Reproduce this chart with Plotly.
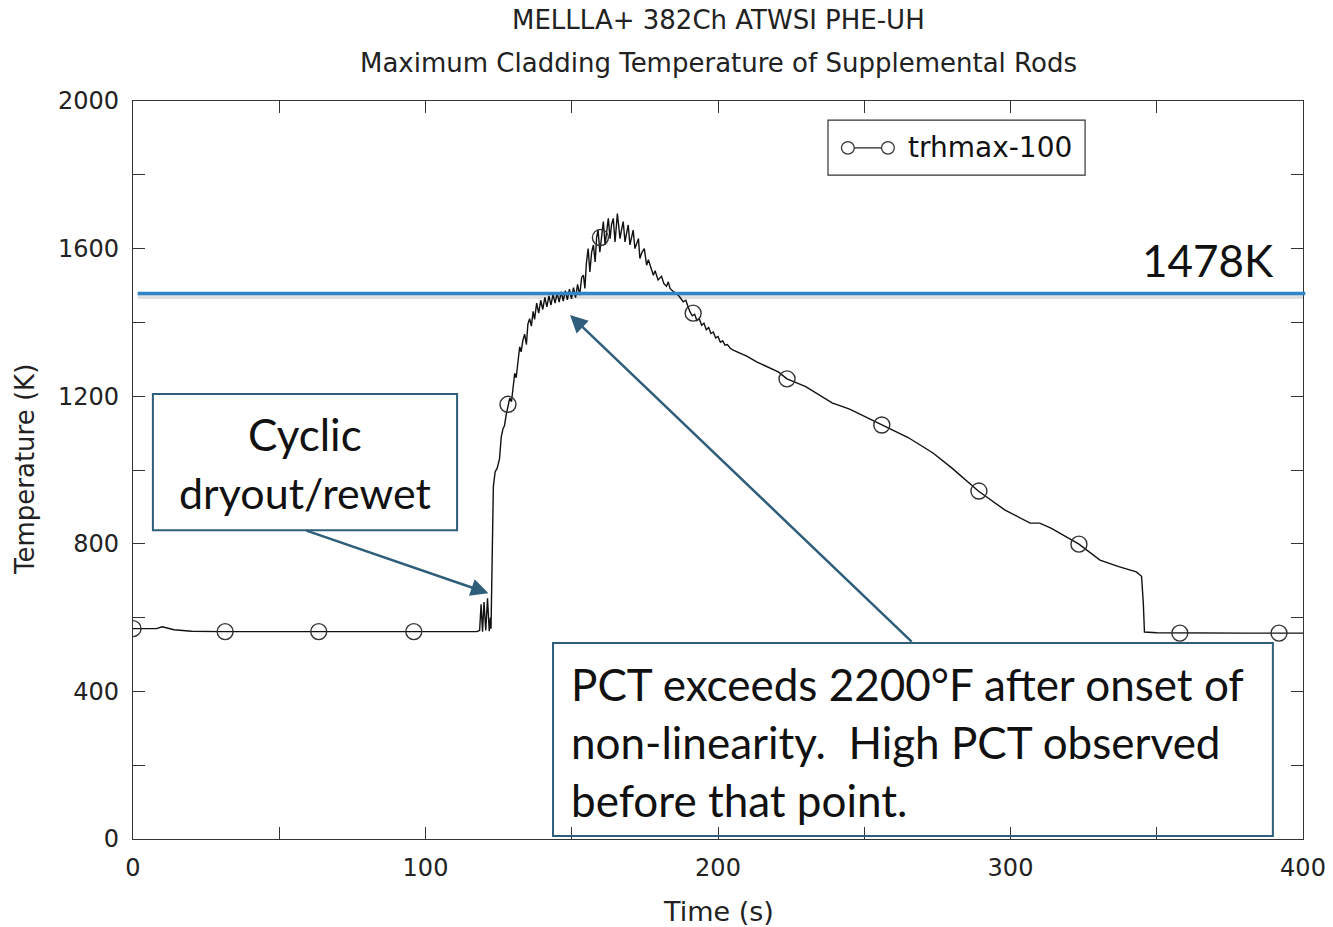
import plotly.graph_objects as go

# ---------------- data ----------------
t_steady = [0, 8, 10, 11, 14, 20, 30, 60, 90, 117.5]
T_steady = [570, 570, 575, 573, 567, 563, 562, 562, 562, 562]

t_dryout = [118.5, 119.0, 119.5, 120.0, 120.6, 121.2, 121.8, 122.2]
T_dryout = [565, 636, 562, 642, 565, 652, 563, 600]

t_rise = [122.4, 123.2, 123.8, 124.5, 125.3, 125.9, 126.5, 127.0, 127.6, 128.2,
          128.8, 129.4, 129.9, 130.5, 131.0, 131.6, 132.2, 132.7, 133.3, 133.9,
          134.5, 135.0, 135.6, 136.2, 136.8, 137.3]
T_rise = [570, 955, 995, 1005, 1030, 1090, 1112, 1120, 1150, 1170,
          1195, 1185, 1222, 1262, 1250, 1285, 1334, 1320, 1352, 1368,
          1340, 1395, 1410, 1390, 1430, 1408]

t_plateau = [138.0, 138.7, 139.4, 140.1, 140.8, 141.5, 142.2, 142.9, 143.6, 144.3,
             145.0, 145.7, 146.4, 147.1, 147.8, 148.5, 149.2, 149.9, 150.6, 151.3,
             152.0, 152.7, 153.4]
T_plateau = [1452, 1425, 1460, 1435, 1468, 1442, 1472, 1447, 1476, 1452,
             1480, 1455, 1483, 1458, 1486, 1461, 1490, 1464, 1494, 1467,
             1503, 1474, 1522]

t_peak = [154.0, 154.5, 155.0, 155.6, 156.2, 156.8, 157.4, 158.0, 158.5, 159.0,
          159.6, 160.2, 160.8, 161.4, 162.0, 162.5, 163.1, 163.6, 164.2, 164.8,
          165.6, 166.5, 167.0, 167.6, 168.2, 168.7, 169.3, 169.9, 170.5, 171.0,
          171.6, 172.2, 172.8, 173.3, 174.0, 174.8, 175.6, 176.2, 177.0, 177.9,
          178.5, 179.5, 180.7, 181.5, 182.4, 183.0, 183.6, 184.5, 185.8, 186.8,
          188.1, 189.0, 189.8]
T_peak = [1528, 1492, 1560, 1600, 1537, 1590, 1610, 1564, 1630, 1650,
          1590, 1640, 1673, 1610, 1660, 1682, 1627, 1665, 1682, 1618,
          1695, 1627, 1650, 1673, 1618, 1645, 1664, 1610, 1635, 1650,
          1600, 1615, 1627, 1573, 1590, 1600, 1555, 1570, 1551, 1528,
          1540, 1515, 1525, 1505, 1498, 1510, 1492, 1485, 1478, 1470,
          1456, 1460, 1442]

t_wavy = [190.4, 191.2, 192.0, 192.8, 193.6, 194.4, 195.2, 196.0, 196.8, 197.6,
          198.4, 199.2, 200.0, 200.8, 201.6, 202.4, 203.2, 204.2]
T_wavy = [1429, 1418, 1422, 1405, 1410, 1392, 1398, 1380, 1386, 1370,
          1374, 1358, 1362, 1346, 1350, 1338, 1340, 1330]

t_cool = [205.2, 210, 213.2, 220.6, 223.6, 230, 239, 245, 256, 265,
          273.5, 280, 289, 298, 306.7, 310, 314, 323.4, 330.6, 337,
          343, 344.8, 345.4, 345.8, 350, 360, 380, 400]
T_cool = [1325, 1308, 1293, 1266, 1247, 1226, 1182, 1165, 1122, 1088,
          1046, 1005, 943, 892, 856, 856, 842, 799, 756, 738,
          724, 712, 640, 561, 559, 558, 558, 558]

marker_t = [0, 31.5, 63.5, 96, 128.2, 159.8, 191.5, 223.6, 256, 289.2, 323.4, 357.9, 391.8]
marker_T = [570, 562, 562, 562, 1178, 1630, 1425, 1247, 1122, 943, 799, 558, 558]

limit_K = 1478
limit_label = "1478K"
series_name = "trhmax-100"

x_ticks = [0, 50, 100, 150, 200, 250, 300, 350, 400]
x_ticktext = ["0", "", "100", "", "200", "", "300", "", "400"]
y_ticks = [0, 200, 400, 600, 800, 1000, 1200, 1400, 1600, 1800, 2000]
y_ticktext = ["0", "", "400", "", "800", "", "1200", "", "1600", "", "2000"]

time_s = t_steady + t_dryout + t_rise + t_plateau + t_peak + t_wavy + t_cool
temp_K = T_steady + T_dryout + T_rise + T_plateau + T_peak + T_wavy + T_cool

# ---------------- figure ----------------
AX = "#333333"
CALL = "#2F5E7A"
SANS = "DejaVu Sans, Verdana, sans-serif"
TICKFONT = dict(family=SANS, size=24, color="#222")
ANNFONT = dict(family="Lato, 'Open Sans', sans-serif", size=44, color="#111")

fig = go.Figure()
fig.add_trace(go.Scatter(x=time_s, y=temp_K, mode="lines",
                         line=dict(color="#111", width=1.4),
                         showlegend=False, hoverinfo="skip"))
fig.add_trace(go.Scatter(x=marker_t, y=marker_T, mode="markers",
                         marker=dict(symbol="circle-open", size=16,
                                     color="#333", line=dict(width=1.4)),
                         showlegend=False, name=series_name))

shapes = []
# limit line with faint shadow
shapes.append(dict(type="line", xref="paper", yref="y", x0=0.004, x1=1.0,
                   y0=limit_K - 9, y1=limit_K - 9,
                   line=dict(color="rgba(0,0,0,0.12)", width=4)))
shapes.append(dict(type="line", xref="paper", yref="y", x0=0.004, x1=1.002,
                   y0=limit_K, y1=limit_K,
                   line=dict(color="#2E86C8", width=3.5)))
# callout boxes
shapes.append(dict(type="rect", xref="x", yref="y", x0=6.8, x1=110.8, y0=837, y1=1206,
                   line=dict(color=CALL, width=2), fillcolor="white", layer="above"))
shapes.append(dict(type="rect", xref="x", yref="y", x0=143.6, x1=389.7, y0=8, y1=531,
                   line=dict(color=CALL, width=2), fillcolor="rgba(255,255,255,0)", layer="above"))
# legend box
shapes.append(dict(type="rect", xref="x", yref="y", x0=237.6, x1=325.5, y0=1799, y1=1948,
                   line=dict(color="#333", width=1.2), fillcolor="white", layer="above"))
shapes.append(dict(type="line", xref="x", yref="y", x0=244.4, x1=258.1, y0=1873, y1=1873,
                   line=dict(color="#222", width=1.4), layer="above"))
for cx in (244.4, 258.1):
    shapes.append(dict(type="circle", xref="x", yref="y",
                       x0=cx - 2.2, x1=cx + 2.2, y0=1873 - 17, y1=1873 + 17,
                       line=dict(color="#333", width=1.3), fillcolor="white", layer="above"))

annotations = []
# titles
annotations.append(dict(text="MELLLA+ 382Ch ATWSI PHE-UH", xref="paper", yref="paper",
                        x=0.5, y=1.1098, showarrow=False, yanchor="middle",
                        font=dict(family=SANS, size=26, color="#222")))
annotations.append(dict(text="Maximum Cladding Temperature of Supplemental Rods", xref="paper", yref="paper",
                        x=0.5, y=1.0515, showarrow=False, yanchor="middle",
                        font=dict(family=SANS, size=26, color="#222")))
# axis titles
annotations.append(dict(text="Time (s)", xref="paper", yref="paper", x=0.5, y=-0.0976,
                        showarrow=False, yanchor="middle",
                        font=dict(family=SANS, size=27, color="#222")))
annotations.append(dict(text="Temperature (K)", xref="paper", yref="paper", x=-0.0923, y=0.5,
                        showarrow=False, textangle=-90, xanchor="center", yanchor="middle",
                        font=dict(family=SANS, size=26, color="#222")))
# limit label
annotations.append(dict(text=limit_label, xref="x", yref="y", x=367.5, y=1570,
                        showarrow=False, xanchor="center", yanchor="middle",
                        font=dict(family="Lato, sans-serif", size=44, color="#111")))
# legend text
annotations.append(dict(text=series_name, xref="x", yref="y", x=264.3, y=1873,
                        showarrow=False, xanchor="left", yanchor="middle",
                        font=dict(family=SANS, size=28, color="#111")))
# callout 1 text
annotations.append(dict(text="Cyclic", xref="x", yref="y", x=58.8, y=1098,
                        showarrow=False, xanchor="center", yanchor="middle", font=ANNFONT))
annotations.append(dict(text="dryout/rewet", xref="x", yref="y", x=58.8, y=940,
                        showarrow=False, xanchor="center", yanchor="middle",
                        font=dict(family="Lato, 'Open Sans', sans-serif", size=43, color="#111")))
# callout 2 text
for txt, yy in [("PCT exceeds 2200°F after onset of", 420),
                ("non-linearity.  High PCT observed", 263),
                ("before that point.", 106)]:
    annotations.append(dict(text=txt, xref="x", yref="y", x=149.2, y=yy,
                            showarrow=False, xanchor="left", yanchor="middle", font=ANNFONT))
# arrows
annotations.append(dict(x=121.5, y=666, ax=58.8, ay=837, xref="x", yref="y",
                        axref="x", ayref="y", text="", showarrow=True,
                        arrowhead=2, arrowsize=1.4, arrowwidth=2.5, arrowcolor=CALL))
annotations.append(dict(x=149.4, y=1420, ax=266.7, ay=531, xref="x", yref="y",
                        axref="x", ayref="y", text="", showarrow=True,
                        arrowhead=2, arrowsize=1.4, arrowwidth=2.5, arrowcolor=CALL))

fig.update_layout(
    width=1333, height=927,
    margin=dict(l=133, r=30, t=101, b=88, autoexpand=False),
    paper_bgcolor="white", plot_bgcolor="white",
    shapes=shapes, annotations=annotations, showlegend=False,
    xaxis=dict(range=[0, 400], showgrid=False, zeroline=False, showline=True,
               linecolor=AX, linewidth=1.2, mirror="ticks", ticks="inside",
               ticklen=12, tickcolor=AX, tickwidth=1.2, automargin=False,
               tickvals=x_ticks, ticktext=x_ticktext, tickfont=TICKFONT,
               ticklabelstandoff=7),
    yaxis=dict(range=[0, 2000], showgrid=False, zeroline=False, showline=True,
               linecolor=AX, linewidth=1.2, mirror="ticks", ticks="inside",
               ticklen=12, tickcolor=AX, tickwidth=1.2, automargin=False,
               tickvals=y_ticks, ticktext=y_ticktext, tickfont=TICKFONT,
               ticklabelstandoff=8),
)

fig.write_html("out.html")
